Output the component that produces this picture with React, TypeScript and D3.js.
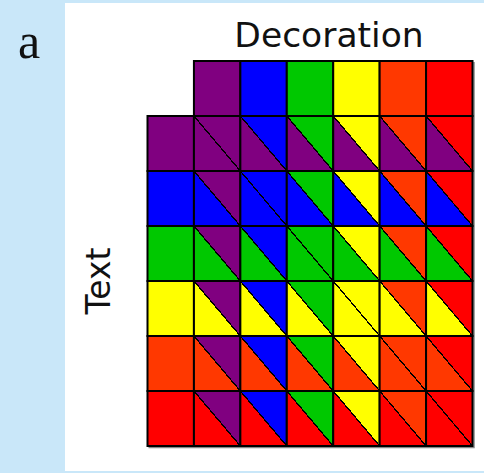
import React from "react";
import * as d3 from "d3";

const categories = ["purple", "blue", "green", "yellow", "orange", "red"];
const colorValues = ["#800080", "#0000ff", "#00c800", "#ffff00", "#ff3800", "#ff0000"];
const decorationLabel = "Decoration";
const textLabel = "Text";
const panelLabel = "a";

const W = 484;
const H = 473;

export default function App() {
  const color = d3.scaleOrdinal<string, string>().domain(categories).range(colorValues);
  const keys = ["header", ...categories];
  const x = d3.scaleBand<string>().domain(keys).range([147.5, 472.5]).padding(0);
  const y = d3.scaleBand<string>().domain(keys).range([61, 446]).padding(0);
  const bw = x.bandwidth();
  const bh = y.bandwidth();

  const cells: { r: string; c: string }[] = [];
  categories.forEach((r) => categories.forEach((c) => cells.push({ r, c })));

  const gx0 = x("header")!;
  const gx1 = x(categories[categories.length - 1])! + bw;
  const gy0 = y("header")!;
  const gy1 = y(categories[categories.length - 1])! + bh;
  const hy = y(categories[0])!;

  return (
    <svg
      width={W}
      height={H}
      style={{ position: "absolute", left: 0, top: 0, display: "block" }}
    >
      <rect x={0} y={0} width={W} height={H} fill="#c9e7f9" />
      <rect x={65} y={3} width={W - 65} height={468} fill="#ffffff" />
      <text
        x={18}
        y={58}
        fontFamily="Liberation Serif, serif"
        fontSize={50}
        fill="#111"
      >
        {panelLabel}
      </text>
      <text
        x={329}
        y={47}
        textAnchor="middle"
        fontFamily="DejaVu Sans, sans-serif"
        fontSize={34.5}
        fill="#111"
      >
        {decorationLabel}
      </text>
      <text
        transform={`translate(110, ${(hy + gy1) / 2}) rotate(-90)`}
        textAnchor="middle"
        fontFamily="DejaVu Sans, sans-serif"
        fontSize={33}
        fill="#111"
      >
        {textLabel}
      </text>

      {/* shadow */}
      <polyline
        points={`${gx1 + 1.5},${gy0 + 1} ${gx1 + 1.5},${gy1 + 1.5} ${gx0 + 1},${gy1 + 1.5}`}
        fill="none"
        stroke="#888"
        strokeWidth={1.5}
      />

      {/* header row: decoration colors */}
      {categories.map((c) => (
        <rect
          key={"h" + c}
          x={x(c)}
          y={y("header")}
          width={bw}
          height={bh}
          fill={color(c)}
          stroke="#000"
          strokeWidth={2}
        />
      ))}
      {/* header column: text colors */}
      {categories.map((r) => (
        <rect
          key={"v" + r}
          x={x("header")}
          y={y(r)}
          width={bw}
          height={bh}
          fill={color(r)}
          stroke="#000"
          strokeWidth={2}
        />
      ))}
      {cells.map(({ r, c }) => {
        const x0 = x(c)!;
        const y0 = y(r)!;
        const x1 = x0 + bw;
        const y1 = y0 + bh;
        return (
          <g key={r + c}>
            <polygon
              points={`${x0},${y0} ${x0},${y1} ${x1},${y1}`}
              fill={color(r)}
              shapeRendering="crispEdges"
            />
            <polygon
              points={`${x0},${y0} ${x1},${y0} ${x1},${y1}`}
              fill={color(c)}
              shapeRendering="crispEdges"
            />
            <line
              x1={x0}
              y1={y0}
              x2={x1}
              y2={y1}
              stroke="#000"
              strokeWidth={1.3}
              shapeRendering="crispEdges"
            />
            <rect
              x={x0}
              y={y0}
              width={bw}
              height={bh}
              fill="none"
              stroke="#000"
              strokeWidth={2}
            />
          </g>
        );
      })}
    </svg>
  );
}
